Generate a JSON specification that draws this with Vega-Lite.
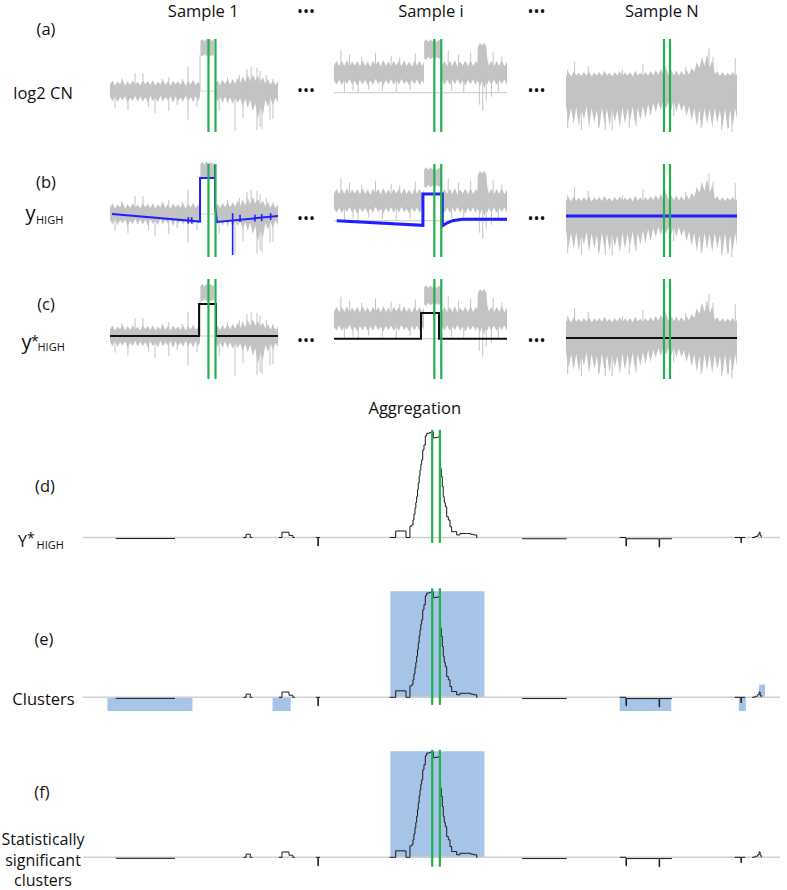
{
"$schema":"https://vega.github.io/schema/vega-lite/v6.json",
"padding":0,
"spacing":0,
"background":"white",
"config":{"view":{"stroke":null},"axis":{"disable":true},"concat":{"spacing":0},"text":{"font":"Open Sans","color":"#111111"}},
"datasets":{
"samples":[{"sample":"1","title":"Sample 1"},{"sample":"i","title":"Sample i"},{"sample":"N","title":"Sample N"}],
"labels":[{"key":"a1","text":"(a)"},{"key":"a2","text":"log2 CN"},{"key":"b1","text":"(b)"},{"key":"b2","text":"y"},{"key":"b3","text":"HIGH"},{"key":"c1","text":"(c)"},{"key":"c2","text":"y"},{"key":"c3","text":"*"},{"key":"c4","text":"HIGH"},{"key":"d1","text":"(d)"},{"key":"d2","text":"Y"},{"key":"d3","text":"*"},{"key":"d4","text":"HIGH"},{"key":"e1","text":"(e)"},{"key":"e2","text":"Clusters"},{"key":"f1","text":"(f)"},{"key":"f2","text":"Statistically\nsignificant\nclusters"},{"key":"dots","text":"•••"},{"key":"agg","text":"Aggregation"}],
"markers":[{"sample":"1","pos":58.6},{"sample":"1","pos":62.8},{"sample":"i","pos":58.0},{"sample":"i","pos":62.0},{"sample":"N","pos":57.3},{"sample":"N","pos":60.8},{"sample":"all","pos":501},{"sample":"all","pos":512}],
"cn":[
{"sample":"1","seg":"a","pos":0,"lo":-0.14,"hi":0.16},{"sample":"1","seg":"a","pos":1.5,"lo":-0.26,"hi":0.26},{"sample":"1","seg":"a","pos":3,"lo":-0.12,"hi":0.14},{"sample":"1","seg":"a","pos":4.5,"lo":-0.28,"hi":0.24},{"sample":"1","seg":"a","pos":6,"lo":-0.15,"hi":0.17},{"sample":"1","seg":"a","pos":7.5,"lo":-0.24,"hi":0.28},{"sample":"1","seg":"a","pos":9,"lo":-0.13,"hi":0.13},{"sample":"1","seg":"a","pos":10.5,"lo":-0.3,"hi":0.25},{"sample":"1","seg":"a","pos":12,"lo":-0.16,"hi":0.15},{"sample":"1","seg":"a","pos":13.5,"lo":-0.25,"hi":0.27},{"sample":"1","seg":"a","pos":15,"lo":-0.12,"hi":0.16},{"sample":"1","seg":"a","pos":16.5,"lo":-0.27,"hi":0.23},{"sample":"1","seg":"a","pos":18,"lo":-0.14,"hi":0.14},{"sample":"1","seg":"a","pos":19.5,"lo":-0.26,"hi":0.26},{"sample":"1","seg":"a","pos":21,"lo":-0.15,"hi":0.17},{"sample":"1","seg":"a","pos":22.5,"lo":-0.29,"hi":0.25},{"sample":"1","seg":"a","pos":24,"lo":-0.13,"hi":0.15},{"sample":"1","seg":"a","pos":25.5,"lo":-0.25,"hi":0.27},{"sample":"1","seg":"a","pos":27,"lo":-0.16,"hi":0.14},{"sample":"1","seg":"a","pos":28.5,"lo":-0.28,"hi":0.24},{"sample":"1","seg":"a","pos":30,"lo":-0.12,"hi":0.16},{"sample":"1","seg":"a","pos":31.5,"lo":-0.26,"hi":0.28},{"sample":"1","seg":"a","pos":33,"lo":-0.15,"hi":0.15},{"sample":"1","seg":"a","pos":34.5,"lo":-0.24,"hi":0.25},{"sample":"1","seg":"a","pos":36,"lo":-0.13,"hi":0.13},{"sample":"1","seg":"a","pos":37.5,"lo":-0.3,"hi":0.26},{"sample":"1","seg":"a","pos":39,"lo":-0.14,"hi":0.17},{"sample":"1","seg":"a","pos":40.5,"lo":-0.25,"hi":0.24},{"sample":"1","seg":"a","pos":42,"lo":-0.16,"hi":0.15},{"sample":"1","seg":"a","pos":43.5,"lo":-0.27,"hi":0.27},{"sample":"1","seg":"a","pos":45,"lo":-0.12,"hi":0.14},{"sample":"1","seg":"a","pos":46.5,"lo":-0.26,"hi":0.25},{"sample":"1","seg":"a","pos":48,"lo":-0.15,"hi":0.16},{"sample":"1","seg":"a","pos":49.5,"lo":-0.28,"hi":0.28},{"sample":"1","seg":"a","pos":51,"lo":-0.13,"hi":0.15},{"sample":"1","seg":"a","pos":52.5,"lo":-0.25,"hi":0.24},{"sample":"1","seg":"a","pos":53.6,"lo":-0.15,"hi":0.16},
{"sample":"1","seg":"b","pos":53.8,"lo":0.9,"hi":1.25},{"sample":"1","seg":"b","pos":55,"lo":0.86,"hi":1.3},{"sample":"1","seg":"b","pos":56.2,"lo":0.92,"hi":1.24},{"sample":"1","seg":"b","pos":57.4,"lo":0.87,"hi":1.31},{"sample":"1","seg":"b","pos":58.6,"lo":0.91,"hi":1.26},{"sample":"1","seg":"b","pos":59.8,"lo":0.86,"hi":1.3},{"sample":"1","seg":"b","pos":61,"lo":0.9,"hi":1.25},{"sample":"1","seg":"b","pos":61.9,"lo":0.88,"hi":1.28},
{"sample":"1","seg":"c","pos":62.6,"lo":-0.14,"hi":0.16},{"sample":"1","seg":"c","pos":64,"lo":-0.26,"hi":0.26},{"sample":"1","seg":"c","pos":65.5,"lo":-0.15,"hi":0.15},{"sample":"1","seg":"c","pos":67,"lo":-0.3,"hi":0.28},{"sample":"1","seg":"c","pos":68.5,"lo":-0.14,"hi":0.17},{"sample":"1","seg":"c","pos":70,"lo":-0.28,"hi":0.3},{"sample":"1","seg":"c","pos":71.5,"lo":-0.16,"hi":0.16},{"sample":"1","seg":"c","pos":73,"lo":-0.32,"hi":0.3},{"sample":"1","seg":"c","pos":74.5,"lo":-0.17,"hi":0.18},{"sample":"1","seg":"c","pos":76,"lo":-0.3,"hi":0.34},{"sample":"1","seg":"c","pos":77.5,"lo":-0.18,"hi":0.2},{"sample":"1","seg":"c","pos":79,"lo":-0.38,"hi":0.36},{"sample":"1","seg":"c","pos":80.5,"lo":-0.2,"hi":0.22},{"sample":"1","seg":"c","pos":82,"lo":-0.42,"hi":0.4},{"sample":"1","seg":"c","pos":83.5,"lo":-0.22,"hi":0.24},{"sample":"1","seg":"c","pos":85,"lo":-0.5,"hi":0.42},{"sample":"1","seg":"c","pos":86.5,"lo":-0.3,"hi":0.26},{"sample":"1","seg":"c","pos":88,"lo":-0.7,"hi":0.38},{"sample":"1","seg":"c","pos":89.5,"lo":-0.4,"hi":0.24},{"sample":"1","seg":"c","pos":91,"lo":-0.6,"hi":0.34},{"sample":"1","seg":"c","pos":92.5,"lo":-0.22,"hi":0.18},{"sample":"1","seg":"c","pos":94,"lo":-0.4,"hi":0.3},{"sample":"1","seg":"c","pos":95.5,"lo":-0.18,"hi":0.16},{"sample":"1","seg":"c","pos":97,"lo":-0.35,"hi":0.27},{"sample":"1","seg":"c","pos":98.5,"lo":-0.16,"hi":0.15},{"sample":"1","seg":"c","pos":100,"lo":-0.28,"hi":0.24},
{"sample":"i","seg":"a","pos":0,"lo":0.3,"hi":0.68},{"sample":"i","seg":"a","pos":1.5,"lo":0.2,"hi":0.8},{"sample":"i","seg":"a","pos":3,"lo":0.33,"hi":0.66},{"sample":"i","seg":"a","pos":4.5,"lo":0.19,"hi":0.79},{"sample":"i","seg":"a","pos":6,"lo":0.31,"hi":0.67},{"sample":"i","seg":"a","pos":7.5,"lo":0.22,"hi":0.82},{"sample":"i","seg":"a","pos":9,"lo":0.34,"hi":0.65},{"sample":"i","seg":"a","pos":10.5,"lo":0.2,"hi":0.78},{"sample":"i","seg":"a","pos":12,"lo":0.3,"hi":0.68},{"sample":"i","seg":"a","pos":13.5,"lo":0.18,"hi":0.8},{"sample":"i","seg":"a","pos":15,"lo":0.32,"hi":0.66},{"sample":"i","seg":"a","pos":16.5,"lo":0.21,"hi":0.81},{"sample":"i","seg":"a","pos":18,"lo":0.33,"hi":0.67},{"sample":"i","seg":"a","pos":19.5,"lo":0.19,"hi":0.78},{"sample":"i","seg":"a","pos":21,"lo":0.31,"hi":0.65},{"sample":"i","seg":"a","pos":22.5,"lo":0.2,"hi":0.8},{"sample":"i","seg":"a","pos":24,"lo":0.34,"hi":0.68},{"sample":"i","seg":"a","pos":25.5,"lo":0.22,"hi":0.79},{"sample":"i","seg":"a","pos":27,"lo":0.3,"hi":0.66},{"sample":"i","seg":"a","pos":28.5,"lo":0.18,"hi":0.82},{"sample":"i","seg":"a","pos":30,"lo":0.32,"hi":0.67},{"sample":"i","seg":"a","pos":31.5,"lo":0.21,"hi":0.78},{"sample":"i","seg":"a","pos":33,"lo":0.33,"hi":0.65},{"sample":"i","seg":"a","pos":34.5,"lo":0.19,"hi":0.8},{"sample":"i","seg":"a","pos":36,"lo":0.31,"hi":0.68},{"sample":"i","seg":"a","pos":37.5,"lo":0.2,"hi":0.79},{"sample":"i","seg":"a","pos":39,"lo":0.34,"hi":0.66},{"sample":"i","seg":"a","pos":40.5,"lo":0.22,"hi":0.81},{"sample":"i","seg":"a","pos":42,"lo":0.3,"hi":0.67},{"sample":"i","seg":"a","pos":43.5,"lo":0.18,"hi":0.78},{"sample":"i","seg":"a","pos":45,"lo":0.32,"hi":0.65},{"sample":"i","seg":"a","pos":46.5,"lo":0.21,"hi":0.8},{"sample":"i","seg":"a","pos":48,"lo":0.33,"hi":0.68},{"sample":"i","seg":"a","pos":49.5,"lo":0.19,"hi":0.79},{"sample":"i","seg":"a","pos":51,"lo":0.31,"hi":0.66},{"sample":"i","seg":"a","pos":52,"lo":0.22,"hi":0.78},
{"sample":"i","seg":"b","pos":52.1,"lo":0.86,"hi":1.28},{"sample":"i","seg":"b","pos":53.3,"lo":0.82,"hi":1.34},{"sample":"i","seg":"b","pos":54.5,"lo":0.9,"hi":1.27},{"sample":"i","seg":"b","pos":55.7,"lo":0.83,"hi":1.33},{"sample":"i","seg":"b","pos":56.9,"lo":0.88,"hi":1.28},{"sample":"i","seg":"b","pos":58.1,"lo":0.82,"hi":1.35},{"sample":"i","seg":"b","pos":59.3,"lo":0.89,"hi":1.27},{"sample":"i","seg":"b","pos":60.5,"lo":0.84,"hi":1.33},{"sample":"i","seg":"b","pos":61.7,"lo":0.88,"hi":1.29},{"sample":"i","seg":"b","pos":62.3,"lo":0.85,"hi":1.31},
{"sample":"i","seg":"c","pos":62.4,"lo":0.3,"hi":0.68},{"sample":"i","seg":"c","pos":63.9,"lo":0.2,"hi":0.8},{"sample":"i","seg":"c","pos":65.4,"lo":0.33,"hi":0.66},{"sample":"i","seg":"c","pos":66.9,"lo":0.19,"hi":0.79},{"sample":"i","seg":"c","pos":68.4,"lo":0.31,"hi":0.67},{"sample":"i","seg":"c","pos":69.9,"lo":0.22,"hi":0.82},{"sample":"i","seg":"c","pos":71.4,"lo":0.34,"hi":0.65},{"sample":"i","seg":"c","pos":72.9,"lo":0.2,"hi":0.78},{"sample":"i","seg":"c","pos":74.4,"lo":0.3,"hi":0.68},{"sample":"i","seg":"c","pos":75.9,"lo":0.18,"hi":0.8},{"sample":"i","seg":"c","pos":77.4,"lo":0.32,"hi":0.66},{"sample":"i","seg":"c","pos":78.9,"lo":0.21,"hi":0.81},{"sample":"i","seg":"c","pos":80.4,"lo":0.33,"hi":0.67},{"sample":"i","seg":"c","pos":81.9,"lo":0.19,"hi":0.8},{"sample":"i","seg":"c","pos":82.8,"lo":0.3,"hi":0.72},{"sample":"i","seg":"c","pos":83.2,"lo":0.28,"hi":1.15},{"sample":"i","seg":"c","pos":84.4,"lo":0.15,"hi":1.24},{"sample":"i","seg":"c","pos":85.6,"lo":0.3,"hi":1.18},{"sample":"i","seg":"c","pos":86.8,"lo":0.1,"hi":1.25},{"sample":"i","seg":"c","pos":88,"lo":0.28,"hi":1.16},{"sample":"i","seg":"c","pos":88.6,"lo":0.2,"hi":0.85},{"sample":"i","seg":"c","pos":89.5,"lo":0.32,"hi":0.68},{"sample":"i","seg":"c","pos":91,"lo":0.2,"hi":0.8},{"sample":"i","seg":"c","pos":92.5,"lo":0.33,"hi":0.66},{"sample":"i","seg":"c","pos":94,"lo":0.19,"hi":0.79},{"sample":"i","seg":"c","pos":95.5,"lo":0.31,"hi":0.67},{"sample":"i","seg":"c","pos":97,"lo":0.22,"hi":0.82},{"sample":"i","seg":"c","pos":98.5,"lo":0.33,"hi":0.66},{"sample":"i","seg":"c","pos":100,"lo":0.2,"hi":0.78},
{"sample":"N","seg":"a","pos":0,"lo":-0.35,"hi":0.4},{"sample":"N","seg":"a","pos":1.5,"lo":-0.75,"hi":0.5},{"sample":"N","seg":"a","pos":3,"lo":-0.4,"hi":0.39},{"sample":"N","seg":"a","pos":4.5,"lo":-0.8,"hi":0.52},{"sample":"N","seg":"a","pos":6,"lo":-0.38,"hi":0.41},{"sample":"N","seg":"a","pos":7.5,"lo":-0.85,"hi":0.48},{"sample":"N","seg":"a","pos":9,"lo":-0.42,"hi":0.4},{"sample":"N","seg":"a","pos":10.5,"lo":-0.7,"hi":0.5},{"sample":"N","seg":"a","pos":12,"lo":-0.36,"hi":0.41},{"sample":"N","seg":"a","pos":13.5,"lo":-0.88,"hi":0.52},{"sample":"N","seg":"a","pos":15,"lo":-0.4,"hi":0.39},{"sample":"N","seg":"a","pos":16.5,"lo":-0.78,"hi":0.49},{"sample":"N","seg":"a","pos":18,"lo":-0.45,"hi":0.41},{"sample":"N","seg":"a","pos":19.5,"lo":-0.9,"hi":0.5},{"sample":"N","seg":"a","pos":21,"lo":-0.38,"hi":0.4},{"sample":"N","seg":"a","pos":22.5,"lo":-0.8,"hi":0.53},{"sample":"N","seg":"a","pos":24,"lo":-0.42,"hi":0.41},{"sample":"N","seg":"a","pos":25.5,"lo":-0.86,"hi":0.48},{"sample":"N","seg":"a","pos":27,"lo":-0.4,"hi":0.39},{"sample":"N","seg":"a","pos":28.5,"lo":-0.75,"hi":0.5},{"sample":"N","seg":"a","pos":30,"lo":-0.45,"hi":0.41},{"sample":"N","seg":"a","pos":31.5,"lo":-0.9,"hi":0.52},{"sample":"N","seg":"a","pos":33,"lo":-0.38,"hi":0.4},{"sample":"N","seg":"a","pos":34.5,"lo":-0.8,"hi":0.49},{"sample":"N","seg":"a","pos":36,"lo":-0.42,"hi":0.41},{"sample":"N","seg":"a","pos":37.5,"lo":-0.72,"hi":0.5},{"sample":"N","seg":"a","pos":39,"lo":-0.36,"hi":0.39},{"sample":"N","seg":"a","pos":40.5,"lo":-0.82,"hi":0.53},{"sample":"N","seg":"a","pos":42,"lo":-0.4,"hi":0.41},{"sample":"N","seg":"a","pos":43.5,"lo":-0.7,"hi":0.49},{"sample":"N","seg":"a","pos":45,"lo":-0.35,"hi":0.4},{"sample":"N","seg":"a","pos":46.5,"lo":-0.65,"hi":0.5},{"sample":"N","seg":"a","pos":48,"lo":-0.3,"hi":0.41},{"sample":"N","seg":"a","pos":49.5,"lo":-0.6,"hi":0.52},{"sample":"N","seg":"a","pos":51,"lo":-0.28,"hi":0.42},{"sample":"N","seg":"a","pos":52.5,"lo":-0.5,"hi":0.55},{"sample":"N","seg":"a","pos":54,"lo":-0.25,"hi":0.43},{"sample":"N","seg":"a","pos":55.5,"lo":-0.45,"hi":0.58},{"sample":"N","seg":"a","pos":57,"lo":-0.22,"hi":0.44},{"sample":"N","seg":"a","pos":58.5,"lo":-0.42,"hi":0.6},{"sample":"N","seg":"a","pos":60,"lo":-0.25,"hi":0.43},{"sample":"N","seg":"a","pos":61.5,"lo":-0.45,"hi":0.55},{"sample":"N","seg":"a","pos":63,"lo":-0.22,"hi":0.42},{"sample":"N","seg":"a","pos":64.5,"lo":-0.5,"hi":0.54},{"sample":"N","seg":"a","pos":66,"lo":-0.25,"hi":0.41},{"sample":"N","seg":"a","pos":67.5,"lo":-0.48,"hi":0.52},{"sample":"N","seg":"a","pos":69,"lo":-0.3,"hi":0.42},{"sample":"N","seg":"a","pos":70.5,"lo":-0.6,"hi":0.55},{"sample":"N","seg":"a","pos":72,"lo":-0.35,"hi":0.44},{"sample":"N","seg":"a","pos":73.5,"lo":-0.72,"hi":0.6},{"sample":"N","seg":"a","pos":75,"lo":-0.4,"hi":0.5},{"sample":"N","seg":"a","pos":76.5,"lo":-0.85,"hi":0.75},{"sample":"N","seg":"a","pos":78,"lo":-0.45,"hi":0.6},{"sample":"N","seg":"a","pos":79.5,"lo":-0.9,"hi":0.88},{"sample":"N","seg":"a","pos":81,"lo":-0.4,"hi":0.65},{"sample":"N","seg":"a","pos":82.5,"lo":-0.8,"hi":0.95},{"sample":"N","seg":"a","pos":84,"lo":-0.42,"hi":0.6},{"sample":"N","seg":"a","pos":85.5,"lo":-0.88,"hi":0.8},{"sample":"N","seg":"a","pos":87,"lo":-0.4,"hi":0.45},{"sample":"N","seg":"a","pos":88.5,"lo":-0.78,"hi":0.52},{"sample":"N","seg":"a","pos":90,"lo":-0.45,"hi":0.4},{"sample":"N","seg":"a","pos":91.5,"lo":-0.9,"hi":0.5},{"sample":"N","seg":"a","pos":93,"lo":-0.4,"hi":0.4},{"sample":"N","seg":"a","pos":94.5,"lo":-0.95,"hi":0.48},{"sample":"N","seg":"a","pos":96,"lo":-0.45,"hi":0.41},{"sample":"N","seg":"a","pos":97.5,"lo":-0.85,"hi":0.5},{"sample":"N","seg":"a","pos":99,"lo":-0.4,"hi":0.4},{"sample":"N","seg":"a","pos":100,"lo":-0.7,"hi":0.45}
],
"spikes":[
{"sample":"1","pos":3,"lo":-0.42,"hi":0},{"sample":"1","pos":7,"lo":0,"hi":0.32},{"sample":"1","pos":10.7,"lo":-0.48,"hi":0},{"sample":"1","pos":14.9,"lo":0,"hi":0.45},{"sample":"1","pos":19.6,"lo":0,"hi":0.45},{"sample":"1","pos":23,"lo":-0.4,"hi":0},{"sample":"1","pos":26.8,"lo":-0.55,"hi":0},{"sample":"1","pos":31,"lo":0,"hi":0.3},{"sample":"1","pos":35,"lo":-0.5,"hi":0.35},{"sample":"1","pos":40,"lo":-0.35,"hi":0},{"sample":"1","pos":43,"lo":0,"hi":0.3},{"sample":"1","pos":46.4,"lo":-0.72,"hi":0.6},{"sample":"1","pos":51.8,"lo":-0.4,"hi":0},{"sample":"1","pos":53.6,"lo":0,"hi":0.9},{"sample":"1","pos":65,"lo":-0.5,"hi":0},{"sample":"1","pos":70,"lo":-0.3,"hi":0.35},{"sample":"1","pos":74.4,"lo":-1.0,"hi":0},{"sample":"1","pos":77,"lo":0,"hi":0.4},{"sample":"1","pos":79.2,"lo":-0.68,"hi":0},{"sample":"1","pos":81.5,"lo":0,"hi":0.55},{"sample":"1","pos":84,"lo":0,"hi":0.6},{"sample":"1","pos":87.5,"lo":-0.98,"hi":0.58},{"sample":"1","pos":89.3,"lo":-0.9,"hi":0.5},{"sample":"1","pos":90.5,"lo":-0.95,"hi":0},{"sample":"1","pos":93,"lo":0,"hi":0.4},{"sample":"1","pos":95.2,"lo":-0.72,"hi":0},{"sample":"1","pos":97,"lo":-0.7,"hi":0.3},
{"sample":"i","pos":4,"lo":0.5,"hi":1.05},{"sample":"i","pos":9,"lo":0.5,"hi":0.95},{"sample":"i","pos":16,"lo":0.5,"hi":0.9},{"sample":"i","pos":24,"lo":0.5,"hi":1.0},{"sample":"i","pos":33,"lo":0.5,"hi":0.92},{"sample":"i","pos":38,"lo":0.5,"hi":0.88},{"sample":"i","pos":47,"lo":0.5,"hi":0.98},{"sample":"i","pos":66,"lo":0.5,"hi":1.06},{"sample":"i","pos":72,"lo":0.5,"hi":0.95},{"sample":"i","pos":79,"lo":0.5,"hi":1.0},{"sample":"i","pos":92,"lo":0.5,"hi":1.02},{"sample":"i","pos":97,"lo":0.5,"hi":0.9},{"sample":"i","pos":6,"lo":0.02,"hi":0.4},{"sample":"i","pos":11,"lo":0.05,"hi":0.4},{"sample":"i","pos":14,"lo":0.02,"hi":0.4},{"sample":"i","pos":20,"lo":0.08,"hi":0.4},{"sample":"i","pos":28,"lo":0.05,"hi":0.4},{"sample":"i","pos":36,"lo":0.0,"hi":0.4},{"sample":"i","pos":44,"lo":0.07,"hi":0.4},{"sample":"i","pos":68,"lo":0.05,"hi":0.4},{"sample":"i","pos":75,"lo":0.02,"hi":0.4},{"sample":"i","pos":84,"lo":-0.3,"hi":0.4},{"sample":"i","pos":86,"lo":-0.45,"hi":0.4},{"sample":"i","pos":88,"lo":-0.2,"hi":0.4},{"sample":"i","pos":91,"lo":-0.1,"hi":0.4},{"sample":"i","pos":95,"lo":0.03,"hi":0.4},
{"sample":"N","pos":1,"lo":-0.9,"hi":0.55},{"sample":"N","pos":5,"lo":0.4,"hi":0.75},{"sample":"N","pos":9,"lo":-0.95,"hi":0},{"sample":"N","pos":13,"lo":0.3,"hi":0.65},{"sample":"N","pos":19,"lo":-0.9,"hi":0},{"sample":"N","pos":23,"lo":-0.95,"hi":0},{"sample":"N","pos":27,"lo":-0.95,"hi":0},{"sample":"N","pos":33,"lo":0.3,"hi":0.55},{"sample":"N","pos":37,"lo":-0.9,"hi":0},{"sample":"N","pos":41,"lo":-0.85,"hi":0},{"sample":"N","pos":45,"lo":0.3,"hi":0.7},{"sample":"N","pos":58,"lo":0.3,"hi":0.65},{"sample":"N","pos":63,"lo":-0.6,"hi":0},{"sample":"N","pos":70,"lo":0.3,"hi":0.62},{"sample":"N","pos":79,"lo":-0.9,"hi":0},{"sample":"N","pos":83.6,"lo":0.5,"hi":1.1},{"sample":"N","pos":86,"lo":0.4,"hi":0.88},{"sample":"N","pos":91,"lo":-0.95,"hi":0},{"sample":"N","pos":95,"lo":-0.9,"hi":0},{"sample":"N","pos":97,"lo":-1.0,"hi":0},{"sample":"N","pos":99,"lo":0.3,"hi":0.85}
],
"fit":[
{"sample":"1","kind":"blue","i":1,"pos":1.2,"v":0},{"sample":"1","kind":"blue","i":2,"pos":53.6,"v":-0.19},{"sample":"1","kind":"blue","i":3,"pos":53.6,"v":0.9},{"sample":"1","kind":"blue","i":4,"pos":62.5,"v":0.9},{"sample":"1","kind":"blue","i":5,"pos":62.5,"v":1.225},{"sample":"1","kind":"blue","i":6,"pos":62.5,"v":0.175},{"sample":"1","kind":"blue","i":7,"pos":63.7,"v":-0.2},{"sample":"1","kind":"blue","i":8,"pos":100,"v":-0.05},
{"sample":"i","kind":"blue","i":1,"pos":1.6,"v":0},{"sample":"i","kind":"blue","i":2,"pos":51.4,"v":-0.115},{"sample":"i","kind":"blue","i":3,"pos":51.4,"v":0.67},{"sample":"i","kind":"blue","i":4,"pos":62.6,"v":0.67},{"sample":"i","kind":"blue","i":5,"pos":62.6,"v":-0.13},{"sample":"i","kind":"blue","i":6,"pos":64.9,"v":-0.065},{"sample":"i","kind":"blue","i":7,"pos":68.6,"v":0},{"sample":"i","kind":"blue","i":8,"pos":74,"v":0.035},{"sample":"i","kind":"blue","i":9,"pos":100,"v":0.035},
{"sample":"N","kind":"blue","i":1,"pos":0,"v":0.025},{"sample":"N","kind":"blue","i":2,"pos":100,"v":0.025},
{"sample":"1","kind":"black","i":1,"pos":0,"v":0},{"sample":"1","kind":"black","i":2,"pos":53,"v":0},{"sample":"1","kind":"black","i":3,"pos":53,"v":0.8},{"sample":"1","kind":"black","i":4,"pos":63.1,"v":0.8},{"sample":"1","kind":"black","i":5,"pos":63.1,"v":0},{"sample":"1","kind":"black","i":6,"pos":100,"v":0},
{"sample":"i","kind":"black","i":1,"pos":0,"v":0},{"sample":"i","kind":"black","i":2,"pos":50.3,"v":0},{"sample":"i","kind":"black","i":3,"pos":50.3,"v":0.64},{"sample":"i","kind":"black","i":4,"pos":60.7,"v":0.64},{"sample":"i","kind":"black","i":5,"pos":60.7,"v":0},{"sample":"i","kind":"black","i":6,"pos":100,"v":0},
{"sample":"N","kind":"black","i":1,"pos":0,"v":0},{"sample":"N","kind":"black","i":2,"pos":100,"v":0}
],
"bticks":[{"pos":46.6,"lo":-0.24,"hi":-0.08},{"pos":48.6,"lo":-0.24,"hi":-0.08},{"pos":73,"lo":-1.025,"hi":0.02},{"pos":77.4,"lo":-0.2,"hi":-0.02},{"pos":86.3,"lo":-0.19,"hi":-0.02},{"pos":90.3,"lo":-0.18,"hi":0},{"pos":95.6,"lo":-0.15,"hi":0.02}],
"agg":[
{"seg":"A","pos":47,"v":-0.01},{"seg":"A","pos":132,"v":-0.01},
{"seg":"B","pos":230,"v":0},{"seg":"B","pos":234,"v":0.03},{"seg":"B","pos":240,"v":0},{"seg":"B","pos":243,"v":0},
{"seg":"C","pos":281,"v":0},{"seg":"C","pos":285.5,"v":0.05},{"seg":"C","pos":295.5,"v":0.02},{"seg":"C","pos":300,"v":0.02},{"seg":"C","pos":301,"v":0},{"seg":"C","pos":304,"v":0},
{"seg":"D","pos":334,"v":0},{"seg":"D","pos":337,"v":-0.08},{"seg":"D","pos":337.7,"v":0},{"seg":"D","pos":340,"v":0},
{"seg":"E","pos":440,"v":0},{"seg":"E","pos":448.6,"v":0.061},{"seg":"E","pos":462,"v":0.061},{"seg":"E","pos":463.4,"v":0},{"seg":"E","pos":469.1,"v":0.108},{"seg":"E","pos":471.6,"v":0.118},{"seg":"E","pos":473.4,"v":0.165},{"seg":"E","pos":474.8,"v":0.22},{"seg":"E","pos":476.3,"v":0.278},{"seg":"E","pos":477.5,"v":0.33},{"seg":"E","pos":478.7,"v":0.385},{"seg":"E","pos":479.9,"v":0.45},{"seg":"E","pos":481,"v":0.514},{"seg":"E","pos":482.3,"v":0.58},{"seg":"E","pos":483.5,"v":0.637},{"seg":"E","pos":484.7,"v":0.69},{"seg":"E","pos":485.9,"v":0.731},{"seg":"E","pos":487.4,"v":0.825},{"seg":"E","pos":489.2,"v":0.873},{"seg":"E","pos":491.1,"v":0.958},{"seg":"E","pos":493.1,"v":0.983},{"seg":"E","pos":497,"v":0.99},{"seg":"E","pos":500.3,"v":0.998},{"seg":"E","pos":502.6,"v":0.939},{"seg":"E","pos":505,"v":0.943},{"seg":"E","pos":508.3,"v":0.945},{"seg":"E","pos":510.3,"v":0.951},{"seg":"E","pos":512.2,"v":0.731},{"seg":"E","pos":513,"v":0.65},{"seg":"E","pos":514,"v":0.574},{"seg":"E","pos":515.5,"v":0.48},{"seg":"E","pos":516.9,"v":0.385},{"seg":"E","pos":518.3,"v":0.33},{"seg":"E","pos":519.8,"v":0.29},{"seg":"E","pos":521.8,"v":0.196},{"seg":"E","pos":524.1,"v":0.165},{"seg":"E","pos":526.5,"v":0.102},{"seg":"E","pos":528.9,"v":0.055},{"seg":"E","pos":536.1,"v":0.024},{"seg":"E","pos":540.9,"v":0.038},{"seg":"E","pos":550.5,"v":0.038},{"seg":"E","pos":556,"v":0.03},{"seg":"E","pos":560,"v":0.024},{"seg":"E","pos":564.8,"v":0},{"seg":"E","pos":566,"v":0},
{"seg":"F","pos":630,"v":-0.012},{"seg":"F","pos":694,"v":-0.012},
{"seg":"G","pos":770,"v":0},{"seg":"G","pos":779,"v":-0.08},{"seg":"G","pos":779.8,"v":-0.012},{"seg":"G","pos":826,"v":-0.012},{"seg":"G","pos":826.6,"v":-0.09},{"seg":"G","pos":827.3,"v":-0.012},{"seg":"G","pos":845,"v":-0.012},
{"seg":"H","pos":935,"v":0},{"seg":"H","pos":944,"v":-0.05},{"seg":"H","pos":944.6,"v":0},{"seg":"H","pos":950,"v":0},
{"seg":"I","pos":960,"v":0},{"seg":"I","pos":964,"v":0.01},{"seg":"I","pos":968,"v":0.025},{"seg":"I","pos":970,"v":0.05},{"seg":"I","pos":971.5,"v":0.02},{"seg":"I","pos":973,"v":0}
],
"clusters":[{"start":441,"end":576,"lo":0,"hi":1.0,"sig":true},{"start":35,"end":157,"lo":-0.13,"hi":0,"sig":false},{"start":272,"end":298,"lo":-0.13,"hi":0,"sig":false},{"start":770,"end":844,"lo":-0.13,"hi":0,"sig":false},{"start":941,"end":951,"lo":-0.13,"hi":0,"sig":false},{"start":970,"end":978.5,"lo":0,"hi":0.12,"sig":false}]
},
"vconcat":[
{"hconcat":[
 {"width":110,"height":135,"layer":[
  {"data":{"name":"labels"},"transform":[{"filter":"datum.key==='a1'"}],"mark":{"type":"text","fontSize":16.5,"baseline":"middle"},"encoding":{"x":{"datum":0.418,"type":"quantitative","scale":{"domain":[0,1],"nice":false,"zero":false}},"y":{"datum":1.525,"type":"quantitative","scale":{"domain":[-1.1,2.275],"nice":false,"zero":false}},"text":{"field":"text"}}},
  {"data":{"name":"labels"},"transform":[{"filter":"datum.key==='a2'"}],"mark":{"type":"text","fontSize":16.5,"baseline":"middle"},"encoding":{"x":{"datum":0.391,"type":"quantitative"},"y":{"datum":-0.0625,"type":"quantitative"},"text":{"field":"text"}}}
 ]},
 {"width":168,"height":135,"layer":[
  {"data":{"name":"samples"},"transform":[{"filter":"datum.sample==='1'"}],"mark":{"type":"rule","color":"#d4d4d4","strokeWidth":1.2},"encoding":{"y":{"datum":0,"type":"quantitative","scale":{"domain":[-1.1,2.275],"nice":false,"zero":false}}}},
  {"data":{"name":"cn"},"transform":[{"filter":"datum.sample==='1'"}],"mark":{"type":"area","color":"#c3c3c3","opacity":1},"encoding":{"x":{"field":"pos","type":"quantitative","scale":{"domain":[0,100],"nice":false,"zero":false}},"y":{"field":"lo","type":"quantitative"},"y2":{"field":"hi"},"detail":{"field":"seg"}}},
  {"data":{"name":"spikes"},"transform":[{"filter":"datum.sample==='1'"}],"mark":{"type":"rule","color":"#c3c3c3","strokeWidth":1},"encoding":{"x":{"field":"pos","type":"quantitative"},"y":{"field":"lo","type":"quantitative"},"y2":{"field":"hi"}}},
  {"data":{"name":"markers"},"transform":[{"filter":"datum.sample==='1'"}],"mark":{"type":"rule","color":"#22b14c","strokeWidth":2.2},"encoding":{"x":{"field":"pos","type":"quantitative"},"y":{"datum":1.3,"type":"quantitative"},"y2":{"datum":-1.025}}},
  {"data":{"name":"samples"},"transform":[{"filter":"datum.sample==='1'"}],"mark":{"type":"text","fontSize":16.5,"baseline":"middle"},"encoding":{"x":{"datum":55.5,"type":"quantitative"},"y":{"datum":1.975,"type":"quantitative"},"text":{"field":"title"}}}
 ]},
 {"width":56,"height":135,"layer":[
  {"data":{"name":"labels"},"transform":[{"filter":"datum.key==='dots'"}],"mark":{"type":"text","fontSize":16,"baseline":"middle"},"encoding":{"y":{"datum":1.975,"type":"quantitative","scale":{"domain":[-1.1,2.275],"nice":false,"zero":false}},"text":{"field":"text"}}},
  {"data":{"name":"labels"},"transform":[{"filter":"datum.key==='dots'"}],"mark":{"type":"text","fontSize":16,"baseline":"middle"},"encoding":{"y":{"datum":0,"type":"quantitative"},"text":{"field":"text"}}}
 ]},
 {"width":173,"height":135,"layer":[
  {"data":{"name":"samples"},"transform":[{"filter":"datum.sample==='i'"}],"mark":{"type":"rule","color":"#d4d4d4","strokeWidth":1.2},"encoding":{"y":{"datum":0,"type":"quantitative","scale":{"domain":[-1.0575,2.3175],"nice":false,"zero":false}}}},
  {"data":{"name":"cn"},"transform":[{"filter":"datum.sample==='i'"}],"mark":{"type":"area","color":"#c3c3c3","opacity":1},"encoding":{"x":{"field":"pos","type":"quantitative","scale":{"domain":[0,100],"nice":false,"zero":false}},"y":{"field":"lo","type":"quantitative"},"y2":{"field":"hi"},"detail":{"field":"seg"}}},
  {"data":{"name":"spikes"},"transform":[{"filter":"datum.sample==='i'"}],"mark":{"type":"rule","color":"#c3c3c3","strokeWidth":1},"encoding":{"x":{"field":"pos","type":"quantitative"},"y":{"field":"lo","type":"quantitative"},"y2":{"field":"hi"}}},
  {"data":{"name":"markers"},"transform":[{"filter":"datum.sample==='i'"}],"mark":{"type":"rule","color":"#22b14c","strokeWidth":2.2},"encoding":{"x":{"field":"pos","type":"quantitative"},"y":{"datum":1.3425,"type":"quantitative"},"y2":{"datum":-0.9825}}},
  {"data":{"name":"samples"},"transform":[{"filter":"datum.sample==='i'"}],"mark":{"type":"text","fontSize":16.5,"baseline":"middle"},"encoding":{"x":{"datum":56,"type":"quantitative"},"y":{"datum":2.0175,"type":"quantitative"},"text":{"field":"title"}}}
 ]},
 {"width":59,"height":135,"layer":[
  {"data":{"name":"labels"},"transform":[{"filter":"datum.key==='dots'"}],"mark":{"type":"text","fontSize":16,"baseline":"middle"},"encoding":{"y":{"datum":1.975,"type":"quantitative","scale":{"domain":[-1.1,2.275],"nice":false,"zero":false}},"text":{"field":"text"}}},
  {"data":{"name":"labels"},"transform":[{"filter":"datum.key==='dots'"}],"mark":{"type":"text","fontSize":16,"baseline":"middle"},"encoding":{"y":{"datum":0,"type":"quantitative"},"text":{"field":"text"}}}
 ]},
 {"width":171,"height":135,"layer":[
  {"data":{"name":"samples"},"transform":[{"filter":"datum.sample==='N'"}],"mark":{"type":"rule","color":"#d4d4d4","strokeWidth":1.2},"encoding":{"y":{"datum":0,"type":"quantitative","scale":{"domain":[-1.075,2.3],"nice":false,"zero":false}}}},
  {"data":{"name":"cn"},"transform":[{"filter":"datum.sample==='N'"}],"mark":{"type":"area","color":"#c3c3c3","opacity":1},"encoding":{"x":{"field":"pos","type":"quantitative","scale":{"domain":[0,100],"nice":false,"zero":false}},"y":{"field":"lo","type":"quantitative"},"y2":{"field":"hi"},"detail":{"field":"seg"}}},
  {"data":{"name":"spikes"},"transform":[{"filter":"datum.sample==='N'"}],"mark":{"type":"rule","color":"#c3c3c3","strokeWidth":1},"encoding":{"x":{"field":"pos","type":"quantitative"},"y":{"field":"lo","type":"quantitative"},"y2":{"field":"hi"}}},
  {"data":{"name":"markers"},"transform":[{"filter":"datum.sample==='N'"}],"mark":{"type":"rule","color":"#22b14c","strokeWidth":2.2},"encoding":{"x":{"field":"pos","type":"quantitative"},"y":{"datum":1.325,"type":"quantitative"},"y2":{"datum":-1.0}}},
  {"data":{"name":"samples"},"transform":[{"filter":"datum.sample==='N'"}],"mark":{"type":"text","fontSize":16.5,"baseline":"middle"},"encoding":{"x":{"datum":56,"type":"quantitative"},"y":{"datum":2.0,"type":"quantitative"},"text":{"field":"title"}}}
 ]}
],"spacing":0,"bounds":"flush"},
{"hconcat":[
 {"width":110,"height":127,"layer":[
  {"data":{"name":"labels"},"transform":[{"filter":"datum.key==='b1'"}],"mark":{"type":"text","fontSize":16.5,"baseline":"middle"},"encoding":{"x":{"datum":0.418,"type":"quantitative","scale":{"domain":[0,1],"nice":false,"zero":false}},"y":{"datum":0.775,"type":"quantitative","scale":{"domain":[-1.2,1.975],"nice":false,"zero":false}},"text":{"field":"text"}}},
  {"data":{"name":"labels"},"transform":[{"filter":"datum.key==='b2'"}],"mark":{"type":"text","fontSize":20,"baseline":"alphabetic","align":"right"},"encoding":{"x":{"datum":0.323,"type":"quantitative"},"y":{"datum":-0.15,"type":"quantitative"},"text":{"field":"text"}}},
  {"data":{"name":"labels"},"transform":[{"filter":"datum.key==='b3'"}],"mark":{"type":"text","fontSize":11,"baseline":"alphabetic","align":"left"},"encoding":{"x":{"datum":0.327,"type":"quantitative"},"y":{"datum":-0.25,"type":"quantitative"},"text":{"field":"text"}}}
 ]},
 {"width":168,"height":127,"layer":[
  {"data":{"name":"samples"},"transform":[{"filter":"datum.sample==='1'"}],"mark":{"type":"rule","color":"#d4d4d4","strokeWidth":1.2},"encoding":{"y":{"datum":0,"type":"quantitative","scale":{"domain":[-1.2,1.975],"nice":false,"zero":false}}}},
  {"data":{"name":"cn"},"transform":[{"filter":"datum.sample==='1'"}],"mark":{"type":"area","color":"#c3c3c3","opacity":1},"encoding":{"x":{"field":"pos","type":"quantitative","scale":{"domain":[0,100],"nice":false,"zero":false}},"y":{"field":"lo","type":"quantitative"},"y2":{"field":"hi"},"detail":{"field":"seg"}}},
  {"data":{"name":"spikes"},"transform":[{"filter":"datum.sample==='1'"}],"mark":{"type":"rule","color":"#c3c3c3","strokeWidth":1},"encoding":{"x":{"field":"pos","type":"quantitative"},"y":{"field":"lo","type":"quantitative"},"y2":{"field":"hi"}}},
  {"data":{"name":"fit"},"transform":[{"filter":"datum.sample==='1' && datum.kind==='blue'"}],"mark":{"type":"line","color":"#1f1fff","strokeWidth":2},"encoding":{"x":{"field":"pos","type":"quantitative"},"y":{"field":"v","type":"quantitative"},"order":{"field":"i"}}},
  {"data":{"name":"bticks"},"mark":{"type":"rule","color":"#1f1fff","strokeWidth":1.6},"encoding":{"x":{"field":"pos","type":"quantitative"},"y":{"field":"lo","type":"quantitative"},"y2":{"field":"hi"}}},
  {"data":{"name":"markers"},"transform":[{"filter":"datum.sample==='1'"}],"mark":{"type":"rule","color":"#22b14c","strokeWidth":2.2},"encoding":{"x":{"field":"pos","type":"quantitative"},"y":{"datum":1.25,"type":"quantitative"},"y2":{"datum":-1.075}}}
 ]},
 {"width":56,"height":127,"layer":[
  {"data":{"name":"labels"},"transform":[{"filter":"datum.key==='dots'"}],"mark":{"type":"text","fontSize":16,"baseline":"middle"},"encoding":{"y":{"datum":-0.125,"type":"quantitative","scale":{"domain":[-1.2,1.975],"nice":false,"zero":false}},"text":{"field":"text"}}}
 ]},
 {"width":173,"height":127,"layer":[
  {"data":{"name":"samples"},"transform":[{"filter":"datum.sample==='i'"}],"mark":{"type":"rule","color":"#d4d4d4","strokeWidth":1.2},"encoding":{"y":{"datum":0,"type":"quantitative","scale":{"domain":[-1.0325,2.1425],"nice":false,"zero":false}}}},
  {"data":{"name":"cn"},"transform":[{"filter":"datum.sample==='i'"}],"mark":{"type":"area","color":"#c3c3c3","opacity":1},"encoding":{"x":{"field":"pos","type":"quantitative","scale":{"domain":[0,100],"nice":false,"zero":false}},"y":{"field":"lo","type":"quantitative"},"y2":{"field":"hi"},"detail":{"field":"seg"}}},
  {"data":{"name":"spikes"},"transform":[{"filter":"datum.sample==='i'"}],"mark":{"type":"rule","color":"#c3c3c3","strokeWidth":1},"encoding":{"x":{"field":"pos","type":"quantitative"},"y":{"field":"lo","type":"quantitative"},"y2":{"field":"hi"}}},
  {"data":{"name":"fit"},"transform":[{"filter":"datum.sample==='i' && datum.kind==='blue'"}],"mark":{"type":"line","color":"#1f1fff","strokeWidth":3},"encoding":{"x":{"field":"pos","type":"quantitative"},"y":{"field":"v","type":"quantitative"},"order":{"field":"i"}}},
  {"data":{"name":"markers"},"transform":[{"filter":"datum.sample==='i'"}],"mark":{"type":"rule","color":"#22b14c","strokeWidth":2.2},"encoding":{"x":{"field":"pos","type":"quantitative"},"y":{"datum":1.4175,"type":"quantitative"},"y2":{"datum":-0.9075}}}
 ]},
 {"width":59,"height":127,"layer":[
  {"data":{"name":"labels"},"transform":[{"filter":"datum.key==='dots'"}],"mark":{"type":"text","fontSize":16,"baseline":"middle"},"encoding":{"y":{"datum":-0.125,"type":"quantitative","scale":{"domain":[-1.2,1.975],"nice":false,"zero":false}},"text":{"field":"text"}}}
 ]},
 {"width":171,"height":127,"layer":[
  {"data":{"name":"samples"},"transform":[{"filter":"datum.sample==='N'"}],"mark":{"type":"rule","color":"#d4d4d4","strokeWidth":1.2},"encoding":{"y":{"datum":0,"type":"quantitative","scale":{"domain":[-1.125,2.05],"nice":false,"zero":false}}}},
  {"data":{"name":"cn"},"transform":[{"filter":"datum.sample==='N'"}],"mark":{"type":"area","color":"#c3c3c3","opacity":1},"encoding":{"x":{"field":"pos","type":"quantitative","scale":{"domain":[0,100],"nice":false,"zero":false}},"y":{"field":"lo","type":"quantitative"},"y2":{"field":"hi"},"detail":{"field":"seg"}}},
  {"data":{"name":"spikes"},"transform":[{"filter":"datum.sample==='N'"}],"mark":{"type":"rule","color":"#c3c3c3","strokeWidth":1},"encoding":{"x":{"field":"pos","type":"quantitative"},"y":{"field":"lo","type":"quantitative"},"y2":{"field":"hi"}}},
  {"data":{"name":"fit"},"transform":[{"filter":"datum.sample==='N' && datum.kind==='blue'"}],"mark":{"type":"line","color":"#1f1fff","strokeWidth":3},"encoding":{"x":{"field":"pos","type":"quantitative"},"y":{"field":"v","type":"quantitative"},"order":{"field":"i"}}},
  {"data":{"name":"markers"},"transform":[{"filter":"datum.sample==='N'"}],"mark":{"type":"rule","color":"#22b14c","strokeWidth":2.2},"encoding":{"x":{"field":"pos","type":"quantitative"},"y":{"datum":1.325,"type":"quantitative"},"y2":{"datum":-1.0}}}
 ]}
],"spacing":0,"bounds":"flush"},
{"hconcat":[
 {"width":110,"height":133,"layer":[
  {"data":{"name":"labels"},"transform":[{"filter":"datum.key==='c1'"}],"mark":{"type":"text","fontSize":16.5,"baseline":"middle"},"encoding":{"x":{"datum":0.418,"type":"quantitative","scale":{"domain":[0,1],"nice":false,"zero":false}},"y":{"datum":0.775,"type":"quantitative","scale":{"domain":[-1.475,1.85],"nice":false,"zero":false}},"text":{"field":"text"}}},
  {"data":{"name":"labels"},"transform":[{"filter":"datum.key==='c2'"}],"mark":{"type":"text","fontSize":20,"baseline":"alphabetic","align":"right"},"encoding":{"x":{"datum":0.286,"type":"quantitative"},"y":{"datum":-0.325,"type":"quantitative"},"text":{"field":"text"}}},
  {"data":{"name":"labels"},"transform":[{"filter":"datum.key==='c3'"}],"mark":{"type":"text","fontSize":14,"baseline":"alphabetic","align":"left"},"encoding":{"x":{"datum":0.282,"type":"quantitative"},"y":{"datum":-0.2375,"type":"quantitative"},"text":{"field":"text"}}},
  {"data":{"name":"labels"},"transform":[{"filter":"datum.key==='c4'"}],"mark":{"type":"text","fontSize":11,"baseline":"alphabetic","align":"left"},"encoding":{"x":{"datum":0.341,"type":"quantitative"},"y":{"datum":-0.3675,"type":"quantitative"},"text":{"field":"text"}}}
 ]},
 {"width":168,"height":133,"layer":[
  {"data":{"name":"samples"},"transform":[{"filter":"datum.sample==='1'"}],"mark":{"type":"rule","color":"#d4d4d4","strokeWidth":1.2},"encoding":{"y":{"datum":0,"type":"quantitative","scale":{"domain":[-1.475,1.85],"nice":false,"zero":false}}}},
  {"data":{"name":"cn"},"transform":[{"filter":"datum.sample==='1'"}],"mark":{"type":"area","color":"#c3c3c3","opacity":1},"encoding":{"x":{"field":"pos","type":"quantitative","scale":{"domain":[0,100],"nice":false,"zero":false}},"y":{"field":"lo","type":"quantitative"},"y2":{"field":"hi"},"detail":{"field":"seg"}}},
  {"data":{"name":"spikes"},"transform":[{"filter":"datum.sample==='1'"}],"mark":{"type":"rule","color":"#c3c3c3","strokeWidth":1},"encoding":{"x":{"field":"pos","type":"quantitative"},"y":{"field":"lo","type":"quantitative"},"y2":{"field":"hi"}}},
  {"data":{"name":"fit"},"transform":[{"filter":"datum.sample==='1' && datum.kind==='black'"}],"mark":{"type":"line","color":"#111111","strokeWidth":2},"encoding":{"x":{"field":"pos","type":"quantitative"},"y":{"field":"v","type":"quantitative"},"order":{"field":"i"}}},
  {"data":{"name":"markers"},"transform":[{"filter":"datum.sample==='1'"}],"mark":{"type":"rule","color":"#22b14c","strokeWidth":2.2},"encoding":{"x":{"field":"pos","type":"quantitative"},"y":{"datum":1.425,"type":"quantitative"},"y2":{"datum":-1.075}}}
 ]},
 {"width":56,"height":133,"layer":[
  {"data":{"name":"labels"},"transform":[{"filter":"datum.key==='dots'"}],"mark":{"type":"text","fontSize":16,"baseline":"middle"},"encoding":{"y":{"datum":-0.125,"type":"quantitative","scale":{"domain":[-1.475,1.85],"nice":false,"zero":false}},"text":{"field":"text"}}}
 ]},
 {"width":173,"height":133,"layer":[
  {"data":{"name":"samples"},"transform":[{"filter":"datum.sample==='i'"}],"mark":{"type":"rule","color":"#d4d4d4","strokeWidth":1.2},"encoding":{"y":{"datum":0,"type":"quantitative","scale":{"domain":[-1.4075,1.9175],"nice":false,"zero":false}}}},
  {"data":{"name":"cn"},"transform":[{"filter":"datum.sample==='i'"}],"mark":{"type":"area","color":"#c3c3c3","opacity":1},"encoding":{"x":{"field":"pos","type":"quantitative","scale":{"domain":[0,100],"nice":false,"zero":false}},"y":{"field":"lo","type":"quantitative"},"y2":{"field":"hi"},"detail":{"field":"seg"}}},
  {"data":{"name":"spikes"},"transform":[{"filter":"datum.sample==='i'"}],"mark":{"type":"rule","color":"#c3c3c3","strokeWidth":1},"encoding":{"x":{"field":"pos","type":"quantitative"},"y":{"field":"lo","type":"quantitative"},"y2":{"field":"hi"}}},
  {"data":{"name":"fit"},"transform":[{"filter":"datum.sample==='i' && datum.kind==='black'"}],"mark":{"type":"line","color":"#111111","strokeWidth":2},"encoding":{"x":{"field":"pos","type":"quantitative"},"y":{"field":"v","type":"quantitative"},"order":{"field":"i"}}},
  {"data":{"name":"markers"},"transform":[{"filter":"datum.sample==='i'"}],"mark":{"type":"rule","color":"#22b14c","strokeWidth":2.2},"encoding":{"x":{"field":"pos","type":"quantitative"},"y":{"datum":1.4925,"type":"quantitative"},"y2":{"datum":-1.0075}}}
 ]},
 {"width":59,"height":133,"layer":[
  {"data":{"name":"labels"},"transform":[{"filter":"datum.key==='dots'"}],"mark":{"type":"text","fontSize":16,"baseline":"middle"},"encoding":{"y":{"datum":-0.125,"type":"quantitative","scale":{"domain":[-1.475,1.85],"nice":false,"zero":false}},"text":{"field":"text"}}}
 ]},
 {"width":171,"height":133,"layer":[
  {"data":{"name":"samples"},"transform":[{"filter":"datum.sample==='N'"}],"mark":{"type":"rule","color":"#d4d4d4","strokeWidth":1.2},"encoding":{"y":{"datum":0,"type":"quantitative","scale":{"domain":[-1.425,1.9],"nice":false,"zero":false}}}},
  {"data":{"name":"cn"},"transform":[{"filter":"datum.sample==='N'"}],"mark":{"type":"area","color":"#c3c3c3","opacity":1},"encoding":{"x":{"field":"pos","type":"quantitative","scale":{"domain":[0,100],"nice":false,"zero":false}},"y":{"field":"lo","type":"quantitative"},"y2":{"field":"hi"},"detail":{"field":"seg"}}},
  {"data":{"name":"spikes"},"transform":[{"filter":"datum.sample==='N'"}],"mark":{"type":"rule","color":"#c3c3c3","strokeWidth":1},"encoding":{"x":{"field":"pos","type":"quantitative"},"y":{"field":"lo","type":"quantitative"},"y2":{"field":"hi"}}},
  {"data":{"name":"fit"},"transform":[{"filter":"datum.sample==='N' && datum.kind==='black'"}],"mark":{"type":"line","color":"#111111","strokeWidth":2},"encoding":{"x":{"field":"pos","type":"quantitative"},"y":{"field":"v","type":"quantitative"},"order":{"field":"i"}}},
  {"data":{"name":"markers"},"transform":[{"filter":"datum.sample==='N'"}],"mark":{"type":"rule","color":"#22b14c","strokeWidth":2.2},"encoding":{"x":{"field":"pos","type":"quantitative"},"y":{"datum":1.475,"type":"quantitative"},"y2":{"datum":-1.025}}}
 ]}
],"spacing":0,"bounds":"flush"},
{"hconcat":[
 {"width":83,"height":165,"layer":[
  {"data":{"name":"labels"},"transform":[{"filter":"datum.key==='d1'"}],"mark":{"type":"text","fontSize":16.5,"baseline":"middle"},"encoding":{"x":{"datum":0.542,"type":"quantitative","scale":{"domain":[0,1],"nice":false,"zero":false}},"y":{"datum":0.476,"type":"quantitative","scale":{"domain":[-0.2123,1.3443],"nice":false,"zero":false}},"text":{"field":"text"}}},
  {"data":{"name":"labels"},"transform":[{"filter":"datum.key==='d2'"}],"mark":{"type":"text","fontSize":16,"baseline":"alphabetic","align":"right"},"encoding":{"x":{"datum":0.325,"type":"quantitative"},"y":{"datum":-0.0868,"type":"quantitative"},"text":{"field":"text"}}},
  {"data":{"name":"labels"},"transform":[{"filter":"datum.key==='d3'"}],"mark":{"type":"text","fontSize":14,"baseline":"alphabetic","align":"left"},"encoding":{"x":{"datum":0.325,"type":"quantitative"},"y":{"datum":-0.0519,"type":"quantitative"},"text":{"field":"text"}}},
  {"data":{"name":"labels"},"transform":[{"filter":"datum.key==='d4'"}],"mark":{"type":"text","fontSize":11,"baseline":"alphabetic","align":"left"},"encoding":{"x":{"datum":0.44,"type":"quantitative"},"y":{"datum":-0.1085,"type":"quantitative"},"text":{"field":"text"}}}
 ]},
 {"width":697,"height":165,"layer":[
  {"data":{"name":"samples"},"transform":[{"filter":"datum.sample==='1'"}],"mark":{"type":"rule","color":"#d0d0d0","strokeWidth":1.5},"encoding":{"y":{"datum":0,"type":"quantitative","scale":{"domain":[-0.2123,1.3443],"nice":false,"zero":false}}}},
  {"data":{"name":"agg"},"mark":{"type":"line","interpolate":"step-after","color":"#1a1a1a","strokeWidth":1},"encoding":{"x":{"field":"pos","type":"quantitative","scale":{"domain":[0,1000],"nice":false,"zero":false}},"y":{"field":"v","type":"quantitative"},"detail":{"field":"seg"}}},
  {"data":{"name":"markers"},"transform":[{"filter":"datum.sample==='all'"}],"mark":{"type":"rule","color":"#22b14c","strokeWidth":2.2},"encoding":{"x":{"field":"pos","type":"quantitative"},"y":{"datum":1.016,"type":"quantitative"},"y2":{"datum":-0.05}}},
  {"data":{"name":"labels"},"transform":[{"filter":"datum.key==='agg'"}],"mark":{"type":"text","fontSize":16.5,"baseline":"middle"},"encoding":{"x":{"datum":476,"type":"quantitative"},"y":{"datum":1.2123,"type":"quantitative"},"text":{"field":"text"}}}
 ]}
],"spacing":0,"bounds":"flush"},
{"hconcat":[
 {"width":83,"height":162,"layer":[
  {"data":{"name":"labels"},"transform":[{"filter":"datum.key==='e1'"}],"mark":{"type":"text","fontSize":16.5,"baseline":"middle"},"encoding":{"x":{"datum":0.53,"type":"quantitative","scale":{"domain":[0,1],"nice":false,"zero":false}},"y":{"datum":0.5406,"type":"quantitative","scale":{"domain":[-0.233,1.2953],"nice":false,"zero":false}},"text":{"field":"text"}}},
  {"data":{"name":"labels"},"transform":[{"filter":"datum.key==='e2'"}],"mark":{"type":"text","fontSize":16.5,"baseline":"middle"},"encoding":{"x":{"datum":0.524,"type":"quantitative"},"y":{"datum":-0.0255,"type":"quantitative"},"text":{"field":"text"}}}
 ]},
 {"width":697,"height":162,"layer":[
  {"data":{"name":"clusters"},"mark":{"type":"rect","color":"#a6c3e8","opacity":1},"encoding":{"x":{"field":"start","type":"quantitative","scale":{"domain":[0,1000],"nice":false,"zero":false}},"x2":{"field":"end"},"y":{"field":"lo","type":"quantitative","scale":{"domain":[-0.233,1.2953],"nice":false,"zero":false}},"y2":{"field":"hi"}}},
  {"data":{"name":"samples"},"transform":[{"filter":"datum.sample==='1'"}],"mark":{"type":"rule","color":"#d0d0d0","strokeWidth":1.5},"encoding":{"y":{"datum":0,"type":"quantitative"}}},
  {"data":{"name":"agg"},"mark":{"type":"line","interpolate":"step-after","color":"#1a1a1a","strokeWidth":1},"encoding":{"x":{"field":"pos","type":"quantitative"},"y":{"field":"v","type":"quantitative"},"detail":{"field":"seg"}}},
  {"data":{"name":"markers"},"transform":[{"filter":"datum.sample==='all'"}],"mark":{"type":"rule","color":"#22b14c","strokeWidth":2.2},"encoding":{"x":{"field":"pos","type":"quantitative"},"y":{"datum":1.029,"type":"quantitative"},"y2":{"datum":-0.072}}}
 ]}
],"spacing":0,"bounds":"flush"},
{"hconcat":[
 {"width":83,"height":168,"layer":[
  {"data":{"name":"labels"},"transform":[{"filter":"datum.key==='f1'"}],"mark":{"type":"text","fontSize":16.5,"baseline":"middle"},"encoding":{"x":{"datum":0.506,"type":"quantitative","scale":{"domain":[0,1],"nice":false,"zero":false}},"y":{"datum":0.6066,"type":"quantitative","scale":{"domain":[-0.3085,1.2764],"nice":false,"zero":false}},"text":{"field":"text"}}},
  {"data":{"name":"labels"},"transform":[{"filter":"datum.key==='f2'"}],"mark":{"type":"text","fontSize":16,"baseline":"middle","lineBreak":"\n","lineHeight":20.5},"encoding":{"x":{"datum":0.518,"type":"quantitative"},"y":{"datum":0.16,"type":"quantitative"},"text":{"field":"text"}}}
 ]},
 {"width":697,"height":168,"layer":[
  {"data":{"name":"clusters"},"transform":[{"filter":"datum.sig"}],"mark":{"type":"rect","color":"#a6c3e8","opacity":1},"encoding":{"x":{"field":"start","type":"quantitative","scale":{"domain":[0,1000],"nice":false,"zero":false}},"x2":{"field":"end"},"y":{"field":"lo","type":"quantitative","scale":{"domain":[-0.3085,1.2764],"nice":false,"zero":false}},"y2":{"field":"hi"}}},
  {"data":{"name":"samples"},"transform":[{"filter":"datum.sample==='1'"}],"mark":{"type":"rule","color":"#d0d0d0","strokeWidth":1.5},"encoding":{"y":{"datum":0,"type":"quantitative"}}},
  {"data":{"name":"agg"},"mark":{"type":"line","interpolate":"step-after","color":"#1a1a1a","strokeWidth":1},"encoding":{"x":{"field":"pos","type":"quantitative"},"y":{"field":"v","type":"quantitative"},"detail":{"field":"seg"}}},
  {"data":{"name":"markers"},"transform":[{"filter":"datum.sample==='all'"}],"mark":{"type":"rule","color":"#22b14c","strokeWidth":2.2},"encoding":{"x":{"field":"pos","type":"quantitative"},"y":{"datum":1.014,"type":"quantitative"},"y2":{"datum":-0.089}}}
 ]}
],"spacing":0,"bounds":"flush"}
]
}
